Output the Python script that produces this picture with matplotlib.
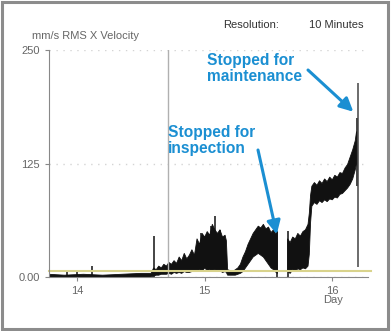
import numpy as np
import matplotlib
matplotlib.use("Agg")
import matplotlib.pyplot as plt
from matplotlib.patches import Rectangle

plt.rcParams['font.family'] = ['Liberation Sans', 'DejaVu Sans']

# Vibration band (upper / lower envelope), days vs mm/s
band_day = [13.78, 13.90, 14.05, 14.20, 14.35, 14.50, 14.58,
            14.60, 14.62, 14.64, 14.66, 14.68, 14.70, 14.72, 14.74, 14.76, 14.78,
            14.80, 14.82, 14.84, 14.86, 14.88, 14.90, 14.92, 14.94, 14.96, 14.98,
            15.00, 15.02, 15.04, 15.06, 15.08, 15.10, 15.12, 15.14, 15.16, 15.17,
            15.18, 15.20, 15.22, 15.24, 15.26, 15.28, 15.30, 15.32, 15.34, 15.36,
            15.38, 15.40, 15.42, 15.44, 15.46, 15.48, 15.50, 15.52, 15.54, 15.56,
            15.57,
            15.61,
            15.65, 15.67, 15.69, 15.71, 15.73, 15.75, 15.77, 15.79, 15.81, 15.82,
            15.83, 15.84, 15.86, 15.88, 15.90, 15.92, 15.94, 15.96, 15.98, 16.00,
            16.02, 16.04, 16.06, 16.08, 16.10, 16.12, 16.14, 16.16, 16.18, 16.19]
band_upper = [3, 2, 3, 2, 3, 4, 4,
              10, 8, 12, 10, 14, 12, 16, 14, 18, 15,
              22, 18, 26, 20, 24, 30, 24, 42, 36, 48,
              44, 50, 46, 58, 52, 48, 52, 44, 46, 40,
              8, 7, 6, 8, 10, 14, 22, 28, 36, 42,
              48, 52, 56, 54, 58, 53, 55, 49, 52, 47,
              50,
              np.nan,
              42, 38, 44, 42, 48, 45, 50, 52, 58, 70,
              90, 100, 104, 101, 106, 103, 108, 105, 110, 107,
              112, 110, 115, 114, 120, 124, 132, 140, 150, 160]
band_lower = [0, 0, 0, 0, 0, 0, 0,
              1, 2, 2, 3, 3, 3, 4, 3, 5, 4,
              5, 4, 6, 5, 5, 6, 6, 6, 8, 6,
              10, 7, 8, 6, 9, 6, 7, 5, 6, 5,
              2, 2, 2, 2, 3, 4, 6, 10, 14, 18,
              22, 24, 26, 24, 22, 18, 14, 10, 8, 5,
              4,
              np.nan,
              6, 4, 8, 6, 9, 8, 10, 9, 12, 25,
              60, 78, 82, 80, 84, 82, 85, 83, 86, 85,
              88, 87, 91, 92, 95, 98, 102, 108, 118, 125]

# isolated spikes: day, bottom, top
spike_day = [13.92, 14.00, 14.12, 14.60, 14.97, 15.05, 15.08, 15.12, 15.57, 15.65, 16.19, 16.20]
spike_bottom = [0, 0, 0, 0, 5, 5, 5, 5, 0, 0, 100, 11]
spike_top = [6, 7, 12, 45, 48, 56, 67, 52, 51, 51, 175, 214]

marker_day = 14.71
alarm_level = 7

blue = '#1b8fd2'
grey = '#666666'

fig = plt.figure(figsize=(3.91, 3.31), dpi=100)
ax = fig.add_axes([49 / 391, 1 - 277 / 331, 319 / 391, 227 / 331])

ax.fill_between(band_day, band_lower, band_upper, color='#111111', lw=0.6,
                edgecolor='#111111')
ax.vlines(spike_day[:-1], spike_bottom[:-1], spike_top[:-1], color='#111111', lw=1.1)
ax.vlines(spike_day[-1], spike_bottom[-1], spike_top[-1], color='#444444', lw=1.1)
ax.axvline(marker_day, color='#b0b0b0', lw=1)
ax.axhline(alarm_level, color='#d9d38c', lw=1.5, xmax=1.01, clip_on=False)

ax.set_xlim(13.78, 16.28)
ax.set_ylim(0, 250)
ax.set_yticks([0, 125, 250])
ax.set_yticklabels(['0.00', '125', '250'])
ax.set_xticks([14, 15, 16])
ax.yaxis.grid(True, linestyle=(0, (1, 4)), color='#d4d4d4', lw=1)
ax.set_axisbelow(True)
for s in ['top', 'right']:
    ax.spines[s].set_visible(False)
for s in ['left', 'bottom']:
    ax.spines[s].set_color('#888888')
ax.tick_params(colors='#888888', labelcolor=grey, labelsize=8, length=3)

fig.text(32 / 391, 1 - 36 / 331, 'mm/s RMS X Velocity', fontsize=8, color=grey,
         va='center')
fig.text(223 / 391, 1 - 25 / 331, 'Resolution:', fontsize=8, color='#333333', va='center')
fig.text(309 / 391, 1 - 25 / 331, '10 Minutes', fontsize=8, color='#333333', va='center')
fig.text(333 / 391, 1 - 300 / 331, 'Day', fontsize=8, color=grey, ha='center', va='center')

# annotations
fig.text(168 / 391, 1 - 125 / 331, 'Stopped for\ninspection', fontsize=11.2,
         fontweight='bold', color=blue, va='top', linespacing=1.08)
fig.text(207 / 391, 1 - 53 / 331, 'Stopped for\nmaintenance', fontsize=11.2,
         fontweight='bold', color=blue, va='top', linespacing=1.08)
ax.annotate('', xy=(15.565, 47), xycoords='data', xytext=(258, 331 - 150),
            textcoords='figure pixels',
            arrowprops=dict(arrowstyle='-|>', color=blue, lw=2.2, mutation_scale=20,
                            shrinkA=0, shrinkB=0))
ax.annotate('', xy=(16.165, 182), xycoords='data', xytext=(308, 331 - 70),
            textcoords='figure pixels',
            arrowprops=dict(arrowstyle='-|>', color=blue, lw=2.2, mutation_scale=20,
                            shrinkA=0, shrinkB=0))

# outer frame
fig.patches.append(Rectangle((1.5 / 391, 2 / 331), 386.5 / 391, 327 / 331,
                             transform=fig.transFigure, fill=False,
                             edgecolor='#8c8c8c', lw=2.2))

fig.savefig('out.png', dpi=100)
